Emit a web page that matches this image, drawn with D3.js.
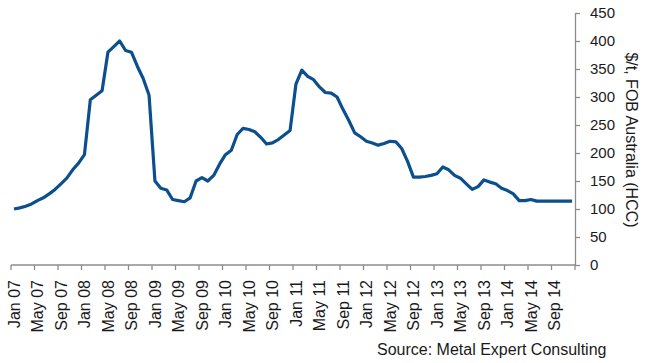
<!DOCTYPE html>
<html>
<head>
<meta charset="utf-8">
<script src="https://cdn.jsdelivr.net/npm/d3@7"></script>
<style>
  body { margin: 0; background: #fff; }
  svg text { font-family: Arial, "Liberation Sans", sans-serif; fill: #1a1a1a; }
</style>
</head>
<body>
<svg id="chart" width="645" height="363"></svg>
<script>
"use strict";

//// data: monthly HCC price, Jan 07 .. Dec 14
const years = ["07", "08", "09", "10", "11", "12", "13", "14"];
const monthNames = ["Jan", "Feb", "Mar", "Apr", "May", "Jun", "Jul", "Aug", "Sep", "Oct", "Nov", "Dec"];
const prices = [
    100, 102, 105, 109, 115, 120, 127, 135, 145, 155, 170, 182,
    197, 295, 303, 311, 380, 390, 400, 383, 380, 355, 333, 303,
    150, 137, 134, 117, 115, 113, 120, 150, 156, 150, 160, 180,
    197, 205, 233, 244, 242, 238, 228, 216, 218, 224, 232, 240,
    323, 348, 337, 331, 318, 308, 307, 300, 278, 258, 236, 229,
    221, 218, 214, 217, 221, 220, 208, 185, 157, 157, 158, 160,
    163, 175, 170, 160, 155, 145, 135, 140, 152, 148, 145, 137,
    133, 127, 115, 115, 117, 114, 114, 114, 114, 114, 114, 114
];
const yTicks = [0, 50, 100, 150, 200, 250, 300, 350, 400, 450];
const yTitle = "$/t, FOB Australia (HCC)";
const sourceText = "Source: Metal Expert Consulting";

(function () {
    const months = [];
    years.forEach(function(yr) {
        monthNames.forEach(function(m) { months.push(m + " " + yr); });
    });
    const data = months.map(function(m, i) { return { month: m, value: prices[i] }; });

    //// layout
    const svg = d3.select("#chart");
    const plotLeft = 11, plotRight = 575, plotTop = 13, plotBottom = 265;
    const axisColor = "#8c8c8c";

    const x = d3.scaleBand().domain(months).range([plotLeft, plotRight]);
    const y = d3.scaleLinear().domain([0, 450]).range([plotBottom, plotTop]);

    //// x axis (category, tick every 4 months)
    const xAxis = svg.append("g");
    xAxis.append("line")
        .attr("x1", plotLeft).attr("x2", plotRight)
        .attr("y1", plotBottom).attr("y2", plotBottom)
        .attr("stroke", axisColor).attr("stroke-width", 1.3);
    const tickMonths = months.filter(function(d, i) { return i % 4 === 0; });
    xAxis.selectAll(".xtick")
        .data(tickMonths.concat(["end"]))
        .enter().append("line")
            .attr("x1", function(d) { return d === "end" ? plotRight : x(d); })
            .attr("x2", function(d) { return d === "end" ? plotRight : x(d); })
            .attr("y1", plotBottom).attr("y2", plotBottom + 5)
            .attr("stroke", axisColor).attr("stroke-width", 1.3);
    xAxis.selectAll(".xlabel")
        .data(tickMonths)
        .enter().append("text")
            .attr("transform", function(d) {
                return "translate(" + (x(d) + x.bandwidth() / 2) + "," + 280 + ") rotate(-90)";
            })
            .attr("dy", "0.36em")
            .attr("text-anchor", "end")
            .style("font-size", "16px")
            .text(function(d) { return d; });

    //// y axis on the right
    const yAxis = svg.append("g")
        .attr("transform", "translate(" + plotRight + ",0)")
        .call(d3.axisRight(y).tickValues(yTicks).tickSize(5).tickPadding(10).tickSizeOuter(0));
    yAxis.select(".domain").attr("stroke", axisColor).attr("stroke-width", 1.3);
    yAxis.selectAll(".tick line").attr("stroke", axisColor).attr("stroke-width", 1.3);
    yAxis.selectAll(".tick text")
        .attr("fill", "#1a1a1a")
        .style("font-size", "15px")
        .style("font-family", "Arial, 'Liberation Sans', sans-serif");

    svg.append("text")
        .attr("transform", "translate(632," + 140 + ") rotate(90)")
        .attr("text-anchor", "middle")
        .attr("dy", "0.35em")
        .style("font-size", "16px")
        .text(yTitle);

    //// price line
    const line = d3.line()
        .x(function(d) { return x(d.month) + x.bandwidth() / 2; })
        .y(function(d) { return y(d.value); });

    svg.append("path")
        .datum(data)
        .attr("fill", "none")
        .attr("stroke", "#0b4f8f")
        .attr("stroke-width", 3.2)
        .attr("stroke-linejoin", "round")
        .attr("d", line);

    //// source note
    svg.append("text")
        .attr("x", 377).attr("y", 355)
        .style("font-size", "16px")
        .text(sourceText);
})();
</script>
</body>
</html>
